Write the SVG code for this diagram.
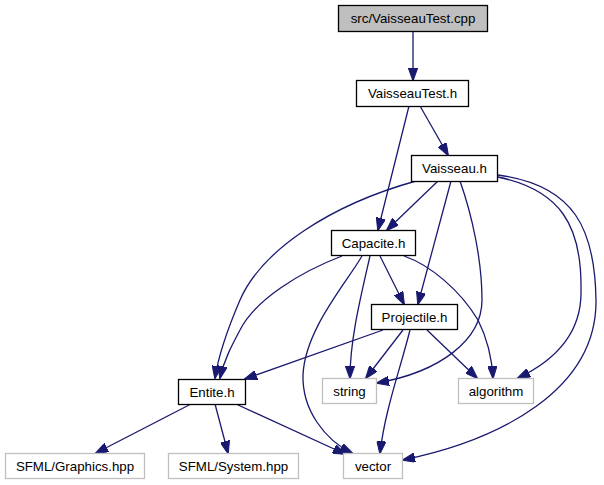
<svg xmlns="http://www.w3.org/2000/svg" width="604" height="485" viewBox="0 0 604 485">
<style>
  .n rect { fill: #ffffff; stroke: #000000; stroke-width: 1.3; }
  .n.root rect { fill: #bfbfbf; }
  .n.ext rect { stroke: #bfbfbf; }
  .n text { font-family: "Liberation Sans", Arial, sans-serif; font-size: 13.3px; fill: #000000; text-anchor: middle; }
  .e path { fill: none; stroke: #191970; stroke-width: 1.3; marker-end: url(#arr); }
</style>
<defs>
  <marker id="arr" viewBox="0 0 13 9.4" refX="12" refY="4.7" markerWidth="13" markerHeight="9.4" markerUnits="userSpaceOnUse" orient="auto">
    <path d="M0,0 L13,4.7 L0,9.4 z" fill="#191970" stroke="#191970" stroke-width="1"/>
  </marker>
</defs>
<rect width="604" height="485" fill="#ffffff"/>
<g id="edges" class="e">
  <path d="M413,32 L413,80"/>
  <path d="M420,106 L448,155"/>
  <path d="M409,106 L378,230"/>
  <path d="M438,181 L387,230"/>
  <path d="M416,181 C330,205 262,250 240,300 C228,328 219,352 215,378"/>
  <path d="M451,181 L418,304"/>
  <path d="M460,181 C472,215 482,260 482,300 C482,340 440,372 377,383"/>
  <path d="M498,177 C560,190 582,225 581,290 C582,330 560,358 518,378"/>
  <path d="M498,175 C575,185 595,230 596,300 C597,390 500,440 403,460"/>
  <path d="M342,256 C300,272 255,300 240,330 C232,345 224,360 220,378"/>
  <path d="M380,256 L404,304"/>
  <path d="M370,256 C360,300 350,340 350,378"/>
  <path d="M362,256 C345,285 305,330 303,375 C302,410 325,440 352,453"/>
  <path d="M404,256 C430,265 460,290 478,320 C488,340 492,360 493,378"/>
  <path d="M383,330 L245,379"/>
  <path d="M403,330 L366,378"/>
  <path d="M410,330 C400,370 385,410 380,453"/>
  <path d="M427,330 L477,378"/>
  <path d="M191,404 L96,453"/>
  <path d="M215,404 L228,453"/>
  <path d="M236,404 L345,454"/>
</g>
<g id="node-cpp" class="n root"><rect x="338.5" y="5.5" width="149" height="26"/><text x="413" y="23">src/VaisseauTest.cpp</text></g>
<g id="node-vaisseautest" class="n"><rect x="356.5" y="80.5" width="112" height="26"/><text x="412.5" y="98">VaisseauTest.h</text></g>
<g id="node-vaisseau" class="n"><rect x="411.5" y="155.5" width="86" height="26"/><text x="454.5" y="173">Vaisseau.h</text></g>
<g id="node-capacite" class="n"><rect x="331.5" y="230.5" width="84" height="25"/><text x="373.5" y="247.5">Capacite.h</text></g>
<g id="node-projectile" class="n"><rect x="371.5" y="304.5" width="86" height="25"/><text x="414.5" y="321.5">Projectile.h</text></g>
<g id="node-entite" class="n"><rect x="178.5" y="379.5" width="67" height="25"/><text x="212" y="396.5">Entite.h</text></g>
<g id="node-string" class="n ext"><rect x="322.5" y="378.5" width="54" height="25"/><text x="349.5" y="395.5">string</text></g>
<g id="node-algorithm" class="n ext"><rect x="458.5" y="378.5" width="75" height="25"/><text x="496" y="395.5">algorithm</text></g>
<g id="node-graphics" class="n ext"><rect x="5.5" y="453.5" width="139" height="25"/><text x="75" y="470.5">SFML/Graphics.hpp</text></g>
<g id="node-system" class="n ext"><rect x="168.5" y="453.5" width="130" height="25"/><text x="233.5" y="470.5">SFML/System.hpp</text></g>
<g id="node-vector" class="n ext"><rect x="343.5" y="453.5" width="59" height="25"/><text x="373" y="470.5">vector</text></g>
</svg>
